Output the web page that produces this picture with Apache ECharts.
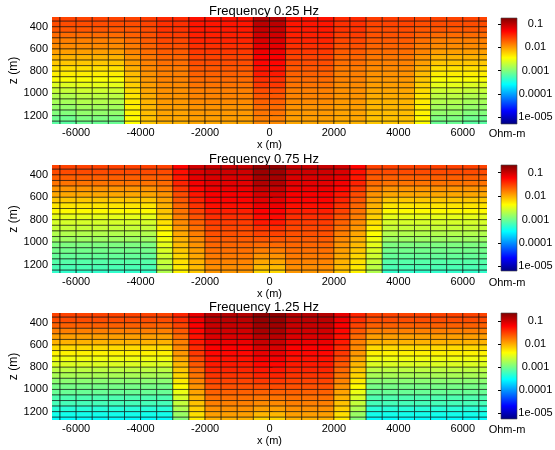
<!DOCTYPE html>
<html><head><meta charset="utf-8">
<script src="https://cdn.jsdelivr.net/npm/echarts@6/dist/echarts.min.js"></script>
<style>html,body{margin:0;padding:0;background:#fff}#c{width:555px;height:450px}</style>
</head><body><div id="c"></div>
<script>
// ---- data (log10 of Ohm-m) ----
const xCenters = [-6750,-6250,-5750,-5250,-4750,-4250,-3750,-3250,-2750,-2250,-1750,-1250,-750,-250,250,750,1250,1750,2250,2750,3250,3750,4250,4750,5250,5750,6250,6750];
const zCenters = [325,375,425,475,525,575,625,675,725,775,825,875,925,975,1025,1075,1125,1175,1225,1275];
const xTicks = [-6000,-4000,-2000,0,2000,4000,6000];
const zTicks = [400,600,800,1000,1200];
const cbTicks = [-5,-4,-3,-2,-1];
const cbTickLabels = ['1e-005','0.0001','0.001','0.01','0.1'];
const plotTitles = ['Frequency 0.25 Hz','Frequency 0.75 Hz','Frequency 1.25 Hz'];
const cbRange1 = [-5.3,-0.74];
const cbRange2 = [-5.2,-0.67];
const cbRange3 = [-5.25,-0.65];

// 0.25 Hz column profiles (top -> bottom)
const E1g = [-1.61,-1.65,-1.70,-1.79,-1.88,-1.93,-2.02,-2.11,-2.20,-2.31,-2.38,-2.47,-2.60,-2.70,-2.80,-2.85,-2.92,-3.00,-3.09,-3.18];
const E1  = [-1.61,-1.65,-1.70,-1.79,-1.88,-1.93,-2.02,-2.11,-2.20,-2.31,-2.38,-2.47,-2.56,-2.66,-2.75,-2.79,-2.86,-2.93,-3.02,-3.11];
const T1  = [-1.61,-1.65,-1.70,-1.74,-1.81,-1.86,-1.90,-1.97,-2.02,-2.09,-2.15,-2.20,-2.24,-2.29,-2.34,-2.36,-2.38,-2.40,-2.43,-2.45];
const IO1 = [-1.58,-1.61,-1.65,-1.68,-1.72,-1.76,-1.80,-1.85,-1.89,-1.93,-1.96,-1.99,-2.02,-2.05,-2.08,-2.11,-2.13,-2.15,-2.18,-2.20];
const I1p = [-1.49,-1.52,-1.54,-1.58,-1.63,-1.67,-1.72,-1.77,-1.81,-1.86,-1.88,-1.90,-1.93,-1.95,-1.97,-1.99,-2.02,-2.04,-2.06,-2.11];
const I1  = [-1.38,-1.40,-1.42,-1.45,-1.47,-1.52,-1.56,-1.61,-1.65,-1.70,-1.74,-1.79,-1.83,-1.88,-1.90,-1.93,-1.97,-1.99,-2.02,-2.06];
const C1  = [-0.97,-1.01,-1.06,-1.10,-1.15,-1.20,-1.24,-1.29,-1.33,-1.38,-1.42,-1.52,-1.56,-1.65,-1.70,-1.74,-1.79,-1.83,-1.88,-1.93];
const cols1 = [E1g,E1g,E1,E1,E1,T1,IO1,I1p,I1p,I1,I1,I1,I1,C1,C1,I1,I1,I1,I1p,I1p,IO1,IO1,IO1,T1,E1,E1,E1g,E1g];

// 0.75 Hz
const E2  = [-1.53,-1.57,-1.66,-1.75,-1.89,-1.98,-2.12,-2.26,-2.35,-2.48,-2.55,-2.62,-2.71,-2.80,-2.94,-2.99,-3.05,-3.12,-3.17,-3.28];
const T2  = [-1.53,-1.57,-1.64,-1.71,-1.80,-1.89,-1.96,-2.03,-2.10,-2.16,-2.23,-2.30,-2.37,-2.42,-2.48,-2.53,-2.58,-2.62,-2.67,-2.71];
const IO2 = [-1.25,-1.30,-1.34,-1.39,-1.48,-1.57,-1.62,-1.69,-1.75,-1.80,-1.85,-1.91,-1.98,-2.03,-2.07,-2.12,-2.19,-2.23,-2.28,-2.32];
const I2b = [-1.03,-1.08,-1.12,-1.19,-1.26,-1.33,-1.39,-1.46,-1.53,-1.60,-1.67,-1.73,-1.80,-1.85,-1.89,-1.94,-1.98,-2.03,-2.07,-2.12];
const I2  = [-0.98,-1.02,-1.07,-1.12,-1.16,-1.21,-1.25,-1.30,-1.37,-1.44,-1.50,-1.55,-1.59,-1.64,-1.69,-1.73,-1.78,-1.82,-1.87,-1.91];
const C2  = [-0.75,-0.80,-0.84,-0.89,-0.98,-1.05,-1.12,-1.16,-1.23,-1.28,-1.34,-1.44,-1.53,-1.62,-1.71,-1.80,-1.89,-1.98,-2.07,-2.19];
const cols2 = [E2,E2,E2,E2,E2,E2,E2,T2,IO2,I2b,I2,I2,I2,C2,C2,I2,I2,I2,I2b,IO2,T2,E2,E2,E2,E2,E2,E2,E2];

// 1.25 Hz
const E3  = [-1.53,-1.57,-1.66,-1.80,-1.94,-2.03,-2.21,-2.32,-2.44,-2.53,-2.67,-2.76,-2.89,-2.99,-3.05,-3.17,-3.21,-3.35,-3.44,-3.53];
const T3  = [-1.39,-1.44,-1.53,-1.62,-1.71,-1.80,-1.85,-1.91,-1.98,-2.05,-2.12,-2.19,-2.28,-2.37,-2.46,-2.55,-2.64,-2.73,-2.83,-2.92];
const IO3 = [-1.12,-1.16,-1.21,-1.25,-1.30,-1.34,-1.41,-1.48,-1.55,-1.62,-1.69,-1.75,-1.82,-1.89,-1.96,-2.03,-2.10,-2.16,-2.23,-2.30];
const I3  = [-0.89,-0.93,-0.98,-1.02,-1.07,-1.14,-1.21,-1.25,-1.30,-1.34,-1.39,-1.46,-1.53,-1.59,-1.66,-1.73,-1.80,-1.87,-1.94,-2.03];
const C3  = [-0.71,-0.75,-0.80,-0.84,-0.91,-0.98,-1.05,-1.12,-1.18,-1.25,-1.32,-1.39,-1.48,-1.57,-1.66,-1.75,-1.85,-1.94,-2.05,-2.19];
const cols3 = [E3,E3,E3,E3,E3,E3,E3,E3,T3,IO3,I3,I3,I3,C3,C3,I3,I3,I3,IO3,T3,E3,E3,E3,E3,E3,E3,E3,E3];

// ---- layout / style ----
const CELL_W = 500, CELL_H = 50;
const FONT = '"Liberation Sans", Arial, Helvetica, sans-serif';
const JET = ['#00007F','#0000FF','#007FFF','#00FFFF','#7FFF7F','#FFFF00','#FF7F00','#FF0000','#7F0000'];
const plotsCols = [cols1, cols2, cols3];
const cbRanges = [cbRange1, cbRange2, cbRange3];
const gridTops = [17, 165, 313];
const gridHeights = [107, 108, 107];
const titleY = [11.5, 159.5, 307.5];
const ohmY = [134, 283, 430];

function buildData(cols) {
  const out = [];
  cols.forEach((prof, i) => {
    prof.forEach((v, j) => out.push([xCenters[i], zCenters[j], v]));
  });
  return out;
}

function cellItem(params, api) {
  const x = api.value(0), z = api.value(1);
  const p0 = api.coord([x - CELL_W / 2, z - CELL_H / 2]);
  const p1 = api.coord([x + CELL_W / 2, z + CELL_H / 2]);
  return {
    type: 'rect',
    shape: { x: Math.min(p0[0], p1[0]), y: Math.min(p0[1], p1[1]),
             width: Math.abs(p1[0] - p0[0]), height: Math.abs(p1[1] - p0[1]) },
    style: { fill: api.visual('color'), stroke: 'rgba(0,0,0,0.7)', lineWidth: 0.8 }
  };
}

function cbItem(params, api) {
  const cs = params.coordSys;
  const stops = JET.map((c, i) => ({ offset: i / (JET.length - 1), color: c }));
  return {
    type: 'rect',
    shape: { x: cs.x, y: cs.y, width: cs.width, height: cs.height },
    style: { fill: new echarts.graphic.LinearGradient(0, 1, 0, 0, stops), stroke: '#444', lineWidth: 0.6 }
  };
}

const grid = [], xAxis = [], yAxis = [], series = [], visualMap = [], graphic = [];
const labelStyle = { color: '#000', fontSize: 11, fontFamily: FONT };
const plain = v => String(v);

for (let k = 0; k < 3; k++) {
  grid.push({ left: 52, top: gridTops[k], width: 435, height: gridHeights[k], containLabel: false, outerBoundsMode: 'none' });
  xAxis.push({
    type: 'value', gridIndex: k, min: -6750, max: 6750,
    axisLine: { show: false }, splitLine: { show: false },
    axisTick: { show: true, inside: true, length: 3, customValues: xTicks, lineStyle: { color: '#000' } },
    axisLabel: Object.assign({ customValues: xTicks, margin: 3, formatter: plain }, labelStyle),
    name: 'x (m)', nameLocation: 'middle', nameGap: 15, nameMoveOverlap: false,
    nameTextStyle: { color: '#000', fontSize: 11, fontFamily: FONT }
  });
  yAxis.push({
    type: 'value', gridIndex: k, min: 312, max: 1275, inverse: true,
    axisLine: { show: false }, splitLine: { show: false },
    axisTick: { show: true, inside: true, length: 3, customValues: zTicks, lineStyle: { color: '#000' } },
    axisLabel: Object.assign({ customValues: zTicks, margin: 4, formatter: plain }, labelStyle),
    name: 'z (m)', nameLocation: 'middle', nameGap: 32, nameRotate: 90, nameMoveOverlap: false,
    nameTextStyle: { color: '#000', fontSize: 12, fontFamily: FONT }
  });
  series.push({
    type: 'custom', xAxisIndex: k, yAxisIndex: k, clip: true,
    renderItem: cellItem, encode: { x: 0, y: 1 }, dimensions: ['x', 'z', 'v'],
    data: buildData(plotsCols[k]), silent: true, animation: false
  });
  visualMap.push({
    type: 'continuous', show: false, seriesIndex: k, dimension: 2,
    min: cbRanges[k][0], max: cbRanges[k][1], inRange: { color: JET }
  });
  graphic.push({ type: 'text', x: 264, y: titleY[k],
    style: { text: plotTitles[k], font: '13px ' + FONT, fill: '#000', textAlign: 'center', textVerticalAlign: 'middle' } });
  graphic.push({ type: 'text', x: 507, y: ohmY[k],
    style: { text: 'Ohm-m', font: '11px ' + FONT, fill: '#000', textAlign: 'center', textVerticalAlign: 'middle' } });
}
for (let k = 0; k < 3; k++) {
  const gi = 3 + k;
  grid.push({ left: 501, top: gridTops[k] + (k === 0 ? 1 : 0), width: 16, height: 106, containLabel: false, outerBoundsMode: 'none' });
  xAxis.push({ type: 'value', gridIndex: gi, min: 0, max: 1, show: false });
  yAxis.push({
    type: 'value', gridIndex: gi, min: cbRanges[k][0], max: cbRanges[k][1], position: 'right',
    axisLine: { show: false }, splitLine: { show: false },
    axisTick: { show: true, inside: true, length: 3, customValues: cbTicks, lineStyle: { color: '#000' } },
    axisLabel: Object.assign({ customValues: cbTicks, margin: 18.5, align: 'center',
      formatter: v => cbTickLabels[cbTicks.indexOf(Math.round(v))] }, labelStyle)
  });
  series.push({
    type: 'custom', xAxisIndex: gi, yAxisIndex: gi, renderItem: cbItem,
    data: [[0.5, cbRanges[k][0]]], silent: true, animation: false, z: 1
  });
}

const chart = echarts.init(document.getElementById('c'), null, { renderer: 'canvas' });
chart.setOption({ backgroundColor: '#fff', animation: false, grid, xAxis, yAxis, series, visualMap, graphic });
</script></body></html>
